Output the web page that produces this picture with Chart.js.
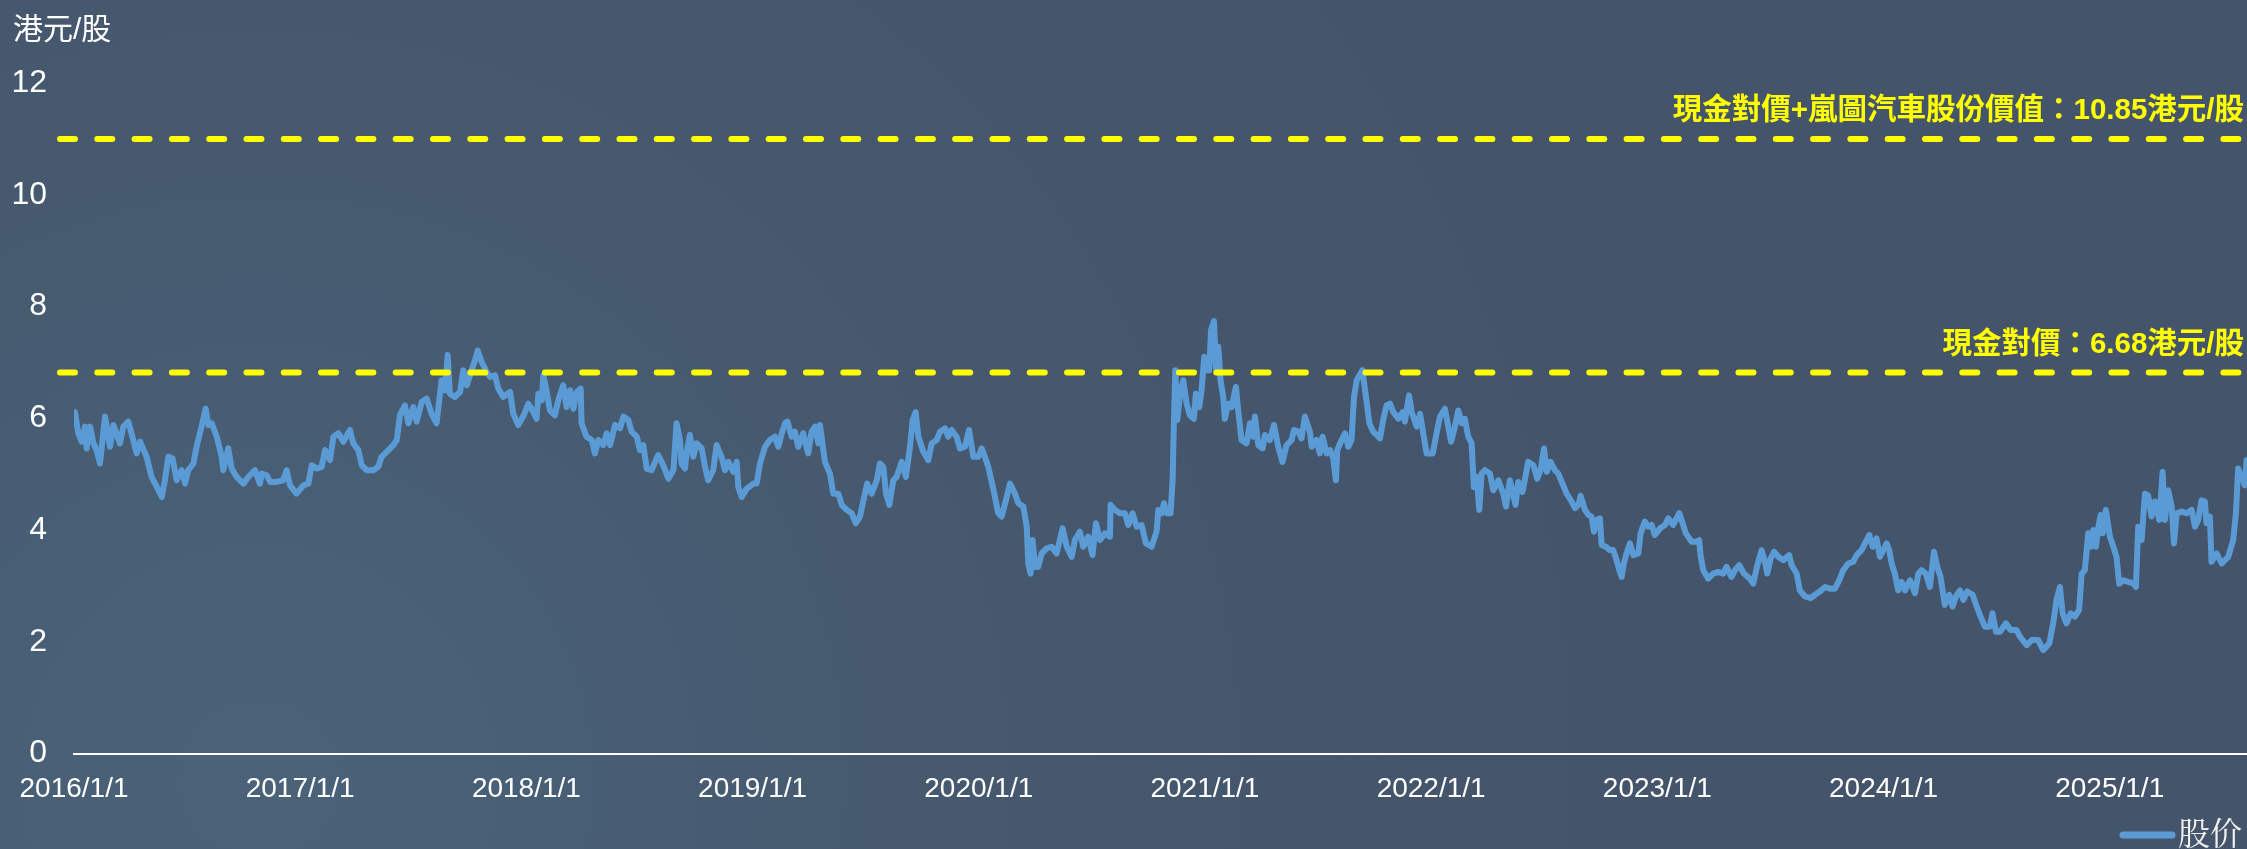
<!DOCTYPE html>
<html>
<head>
<meta charset="utf-8">
<script src="https://cdn.jsdelivr.net/npm/chart.js@4.4.1/dist/chart.umd.min.js"></script>
<style>
html, body { margin: 0; padding: 0; background: #44546a; }
#wrap { width: 2247px; height: 849px; }
</style>
</head>
<body>
<div id="wrap"><canvas id="chart-precio" width="2247" height="849"></canvas></div>
<script>
// fechas en años decimales (2016.5 = mediados de 2016)
var fechas = [
2016.004,2016.019,2016.034,2016.049,2016.056,2016.071,2016.086,2016.100,2016.115,2016.137,2016.159,2016.174,2016.203,2016.218,2016.240,2016.262,2016.277,2016.292,2016.321,2016.343,2016.366,2016.388,2016.402,2016.417,2016.436,2016.454,2016.476,2016.491,2016.505,2016.528,2016.542,2016.564,2016.582,2016.594,2016.609,2016.631,2016.653,2016.660,2016.682,2016.697,2016.719,2016.749,2016.771,2016.800,2016.822,2016.830,2016.852,2016.867,2016.896,2016.925,2016.940,2016.955,2016.984,
2017.014,2017.036,2017.051,2017.073,2017.095,2017.110,2017.132,2017.147,2017.169,2017.191,2017.220,2017.235,2017.257,2017.272,2017.294,2017.323,2017.345,2017.360,2017.390,2017.412,2017.427,2017.441,2017.463,2017.478,
2017.500,2017.515,2017.537,2017.559,2017.581,2017.603,2017.625,2017.640,2017.652,2017.662,2017.684,2017.707,2017.721,2017.736,2017.758,2017.773,2017.785,2017.802,2017.824,2017.839,2017.861,2017.876,2017.898,2017.928,2017.942,2017.964,2017.986,
2018.009,2018.031,2018.045,2018.053,2018.068,2018.075,2018.090,2018.104,2018.126,2018.141,2018.163,2018.178,2018.193,2018.208,2018.222,2018.240,2018.244,2018.266,2018.289,2018.303,2018.318,2018.340,2018.355,2018.370,2018.392,2018.414,2018.429,2018.451,2018.465,2018.488,2018.502,2018.517,2018.532,2018.554,2018.569,2018.583,2018.605,2018.628,2018.650,2018.664,2018.679,2018.686,2018.701,2018.709,2018.723,2018.738,2018.753,2018.775,2018.790,2018.804,2018.826,2018.841,2018.863,2018.878,2018.893,2018.915,2018.930,2018.937,2018.952,2018.974,
2019.003,2019.018,2019.033,2019.055,2019.077,2019.099,2019.114,2019.129,2019.143,
2019.154,2019.173,2019.187,2019.202,2019.224,2019.246,2019.261,2019.276,2019.291,2019.298,2019.320,2019.342,2019.357,2019.379,2019.394,2019.416,2019.438,2019.457,2019.475,2019.490,2019.507,2019.526,2019.549,2019.563,2019.578,2019.590,2019.605,2019.622,2019.637,2019.659,2019.678,2019.696,2019.708,2019.721,2019.733,2019.755,2019.777,2019.792,2019.814,2019.829,2019.851,2019.865,2019.880,2019.902,2019.917,2019.939,2019.957,2019.976,2019.998,
2020.013,2020.027,2020.042,2020.064,2020.086,2020.101,2020.120,2020.138,2020.160,2020.175,2020.197,2020.212,2020.219,2020.229,2020.238,2020.249,2020.263,2020.278,2020.300,2020.322,2020.344,2020.371,2020.389,2020.411,2020.425,2020.447,2020.462,2020.484,2020.503,2020.518,2020.536,2020.558,2020.580,2020.583,2020.602,2020.624,2020.646,2020.661,2020.680,2020.698,2020.720,2020.739,2020.764,
2020.786,2020.794,2020.809,2020.819,2020.831,2020.848,2020.857,2020.863,2020.869,2020.878,2020.890,2020.904,2020.919,2020.934,2020.951,2020.960,2020.975,2020.985,2020.997,
2021.007,2021.019,2021.027,2021.040,2021.049,2021.059,2021.069,2021.081,2021.088,2021.103,2021.118,2021.137,2021.147,2021.162,2021.184,2021.199,2021.214,2021.221,2021.236,2021.255,2021.265,2021.287,2021.305,2021.324,2021.343,2021.361,2021.383,2021.394,2021.413,2021.427,2021.442,2021.464,2021.472,2021.494,2021.508,2021.520,2021.538,2021.553,2021.567,2021.579,2021.585,2021.604,2021.619,2021.634,2021.648,2021.659,2021.671,2021.696,2021.712,2021.727,2021.744,2021.774,2021.788,2021.803,2021.818,2021.833,2021.855,2021.874,2021.884,2021.902,2021.914,2021.936,2021.951,2021.965,2021.980,
2022.007,2022.024,2022.039,2022.061,2022.073,2022.088,2022.105,2022.120,2022.135,2022.149,2022.164,2022.179,2022.189,2022.201,2022.213,2022.223,2022.238,2022.260,2022.275,2022.297,2022.319,2022.331,2022.348,2022.360,2022.373,2022.385,2022.404,
2022.429,2022.452,2022.469,2022.484,2022.499,2022.511,2022.528,2022.547,2022.562,2022.584,2022.599,2022.621,2022.636,2022.651,2022.661,2022.680,2022.695,2022.709,2022.720,2022.732,2022.746,2022.754,2022.773,2022.790,2022.805,2022.820,2022.832,2022.842,2022.852,2022.864,2022.879,2022.894,2022.916,2022.926,2022.945,2022.960,2022.975,2022.989,
2023.012,2023.034,2023.048,2023.070,2023.097,2023.112,2023.126,2023.152,2023.174,2023.185,2023.191,2023.203,2023.225,2023.247,2023.269,2023.292,2023.306,2023.328,2023.343,2023.362,2023.383,2023.409,2023.424,2023.442,2023.461,2023.476,2023.486,2023.501,2023.516,2023.535,2023.557,2023.583,2023.594,2023.616,2023.630,2023.653,2023.678,2023.697,2023.719,2023.741,2023.763,2023.785,2023.804,2023.822,2023.844,2023.866,2023.881,2023.903,2023.918,2023.937,2023.952,2023.969,
2023.984,2023.999,2024.014,2024.025,2024.036,2024.050,2024.065,2024.080,2024.095,2024.117,2024.139,2024.154,2024.168,2024.187,2024.205,2024.223,2024.238,2024.252,2024.271,2024.291,2024.305,2024.320,2024.338,2024.353,2024.370,2024.394,2024.412,2024.426,2024.448,2024.470,2024.482,2024.497,2024.515,2024.541,2024.562,2024.588,2024.603,2024.633,2024.655,2024.684,2024.706,2024.733,2024.750,2024.765,2024.780,2024.792,2024.809,2024.827,2024.846,2024.865,2024.876,2024.890,2024.905,2024.916,2024.927,2024.939,2024.949,2024.960,2024.969,2024.983,
2025.001,2025.016,2025.030,2025.042,2025.060,2025.082,2025.107,2025.116,2025.126,2025.141,2025.156,2025.170,2025.185,2025.200,2025.219,2025.234,2025.244,2025.259,2025.274,2025.284,2025.296,2025.318,2025.340,2025.362,2025.377,2025.391,2025.406,2025.421,2025.428,2025.443,2025.450,2025.473,2025.495,2025.524,2025.546,2025.558,2025.568,2025.583,2025.598,2025.605
]

var precios = [
6.11,5.73,5.58,5.85,5.46,5.85,5.55,5.43,5.19,6.03,5.49,5.88,5.55,5.85,5.94,5.61,5.37,5.58,5.31,4.95,4.77,4.59,4.89,5.31,5.28,4.89,5.07,4.83,5.07,5.19,5.49,5.85,6.17,5.88,5.91,5.67,5.31,5.07,5.46,5.10,4.95,4.83,4.95,5.07,4.83,5.01,4.98,4.86,4.86,4.89,5.07,4.80,4.65,
4.80,4.83,5.16,5.10,5.13,5.43,5.25,5.67,5.73,5.58,5.79,5.55,5.43,5.16,5.07,5.07,5.13,5.31,5.43,5.52,5.61,6.06,6.23,5.91,
6.20,5.94,6.29,6.35,6.08,5.91,6.68,6.50,7.13,6.44,6.38,6.47,6.86,6.59,6.86,7.04,7.21,7.01,6.83,6.74,6.77,6.53,6.38,6.47,6.08,5.88,6.03,
6.26,6.11,5.99,6.44,6.32,6.77,6.47,6.14,6.05,6.32,6.59,6.20,6.50,6.17,6.47,6.53,5.91,5.67,5.61,5.37,5.61,5.52,5.73,5.52,5.88,5.82,6.03,5.97,5.76,5.67,5.43,5.52,5.10,5.07,5.22,5.34,5.16,4.92,5.07,5.91,5.61,5.19,5.10,5.40,5.70,5.31,5.55,5.46,5.13,4.89,5.07,5.52,5.31,5.07,5.22,5.04,5.22,4.77,4.59,4.74,
4.83,4.83,5.19,5.49,5.61,5.67,5.49,5.73,5.91,
5.94,5.67,5.76,5.49,5.73,5.37,5.76,5.85,5.55,5.88,5.22,5.01,4.65,4.65,4.45,4.36,4.30,4.12,4.24,4.53,4.83,4.65,4.89,5.19,5.13,4.65,4.45,4.89,4.95,5.22,4.95,5.49,5.97,6.11,5.67,5.40,5.25,5.55,5.61,5.76,5.82,5.67,5.79,5.67,5.46,5.49,5.79,5.31,5.31,
5.46,5.31,5.13,4.74,4.30,4.24,4.53,4.83,4.65,4.48,4.42,4.06,3.40,3.22,3.82,3.34,3.34,3.58,3.67,3.70,3.58,4.03,3.70,3.52,3.82,3.97,3.70,3.88,3.55,4.12,3.82,3.94,3.88,4.45,4.36,4.30,4.30,4.09,4.30,4.06,4.09,3.76,3.70,
3.97,4.36,4.30,4.48,4.30,4.30,4.89,5.97,6.86,5.97,6.44,6.68,6.26,6.05,5.99,6.44,6.20,6.50,7.10,
6.86,6.86,7.58,7.74,6.89,7.28,6.68,6.38,5.99,6.26,6.20,6.56,6.14,5.61,5.55,5.91,5.67,6.03,5.52,5.46,5.70,5.61,5.88,5.49,5.22,5.52,5.61,5.79,5.76,5.64,6.03,5.76,5.49,5.61,5.37,5.67,5.37,5.43,5.28,4.89,5.43,5.61,5.73,5.49,5.61,6.38,6.68,6.86,6.38,5.91,5.76,5.64,5.97,6.23,6.26,6.11,5.99,6.11,5.94,6.41,6.11,5.85,6.08,5.73,5.37,
5.37,5.73,6.03,6.17,5.91,5.58,5.85,6.14,5.91,5.99,5.67,5.55,4.77,4.95,4.36,5.01,5.07,5.01,4.71,4.89,4.65,4.42,4.89,4.68,4.45,4.86,4.68,
5.22,5.16,4.92,5.07,5.46,5.04,5.22,5.07,5.01,4.80,4.65,4.51,4.39,4.45,4.61,4.36,4.27,4.24,3.97,4.18,4.21,3.73,3.70,3.64,3.64,3.46,3.28,3.16,3.40,3.58,3.76,3.55,3.58,3.94,4.15,4.06,4.09,3.91,
4.03,4.09,4.21,4.09,4.30,4.12,3.94,3.79,3.79,3.82,3.55,3.28,3.13,3.22,3.25,3.22,3.34,3.16,3.28,3.37,3.22,3.13,3.04,3.37,3.64,3.43,3.22,3.49,3.61,3.52,3.46,3.55,3.37,3.22,2.92,2.81,2.78,2.84,2.90,2.98,2.95,2.95,3.10,3.28,3.40,3.43,3.55,3.64,3.76,3.91,3.70,3.85,
3.52,3.64,3.76,3.64,3.40,3.22,2.92,3.07,2.92,3.10,2.87,3.22,3.28,3.22,2.98,3.61,3.34,3.16,2.66,2.84,2.63,2.81,2.92,2.75,2.90,2.84,2.63,2.48,2.27,2.27,2.51,2.18,2.18,2.33,2.21,2.21,2.09,1.94,2.03,2.03,1.85,1.97,2.33,2.75,2.98,2.51,2.33,2.51,2.45,2.57,3.22,3.28,3.94,3.70,4.00,3.70,4.03,4.27,3.94,4.36,
3.88,3.70,3.52,3.04,3.10,3.07,3.04,2.98,4.06,3.82,4.65,4.62,4.24,4.51,4.18,5.04,4.18,4.71,4.42,3.76,4.30,4.33,4.30,4.36,4.06,4.18,4.53,4.51,4.12,4.24,3.43,3.58,3.40,3.52,3.82,4.30,5.10,4.95,4.80,5.25
]

var anios = [2016, 2017, 2018, 2019, 2020, 2021, 2022, 2023, 2024, 2025]
var etiquetas_anios = ['2016/1/1', '2017/1/1', '2018/1/1', '2019/1/1', '2020/1/1', '2021/1/1', '2022/1/1', '2023/1/1', '2024/1/1', '2025/1/1']
var x_fin = 2025.607

// lineas de referencia (posicion) y sus textos
var ref_valores = [11.0, 6.82]
var ref_textos = ['現金對價+嵐圖汽車股份價值：10.85港元/股', '現金對價：6.68港元/股']
var ref_inicio = 2015.938

var COLORES = {
    "fondo": "#44546a",
    "fondo_claro": "#4a6379",
    "linea": "#5b9bd5",
    "amarillo": "#ffff00",
    "blanco": "#ffffff",
}

var puntos = fechas.map(function (f, i) { return { x: f, y: precios[i] } })

var datasets = ref_valores.map(function (v) {
    return {
        label: 'ref',
        data: [{ x: ref_inicio, y: v }, { x: x_fin, y: v }],
        borderColor: COLORES["amarillo"],
        borderWidth: 6,
        borderDash: [15, 22.3],
        borderCapStyle: 'round',
        pointRadius: 0,
        clip: false,
        order: 0,
    }
})
datasets.push({
    label: '股价',
    data: puntos,
    borderColor: COLORES["linea"],
    backgroundColor: COLORES["linea"],
    borderWidth: 6,
    borderJoinStyle: 'round',
    borderCapStyle: 'round',
    pointRadius: 0,
    tension: 0,
    order: 1,
})

var fondo = {
    id: 'fondo',
    beforeDraw: function (chart) {
        var ctx = chart.ctx
        var g = ctx.createRadialGradient(260, 780, 0, 260, 780, 1400)
        g.addColorStop(0, COLORES["fondo_claro"])
        g.addColorStop(0.45, '#46596f')
        g.addColorStop(1, COLORES["fondo"])
        ctx.save()
        ctx.fillStyle = g
        ctx.fillRect(0, 0, chart.width, chart.height)
        ctx.restore()
    }
}

var textos = {
    id: 'textos',
    afterDraw: function (chart) {
        var ctx = chart.ctx
        var y = chart.scales.y
        ctx.save()
        // unidad del eje
        ctx.fillStyle = COLORES["blanco"]
        ctx.font = '30px "Liberation Sans", "Noto Sans CJK SC", sans-serif'
        ctx.textAlign = 'left'
        ctx.textBaseline = 'middle'
        ctx.fillText('港元/股', 13, 31)

        // textos de las lineas de referencia
        ctx.fillStyle = COLORES["amarillo"]
        ctx.font = 'bold 29.5px "Liberation Sans", "Noto Sans CJK TC", sans-serif'
        ctx.textAlign = 'right'
        for (var i = 0; i < ref_valores.length; i++) {
            ctx.fillText(ref_textos[i], 2244, y.getPixelForValue(ref_valores[i]) - 28)
        }

        // leyenda
        var ds = chart.data.datasets[chart.data.datasets.length - 1]
        ctx.strokeStyle = ds.borderColor
        ctx.lineWidth = 7
        ctx.lineCap = 'round'
        ctx.beginPath()
        ctx.moveTo(2123, 835)
        ctx.lineTo(2172, 835)
        ctx.stroke()
        ctx.fillStyle = '#f2f2f2'
        ctx.font = '32px "Noto Serif CJK SC", "Noto Sans CJK SC", serif'
        ctx.textAlign = 'left'
        ctx.fillText(ds.label, 2178, 833)
        ctx.restore()
    }
}

var chart = new Chart(document.getElementById('chart-precio'), {
    type: 'line',
    data: { datasets: datasets },
    options: {
        responsive: false,
        animation: false,
        devicePixelRatio: 1,
        layout: { padding: { top: 83, left: 0, right: 0, bottom: 0 } },
        plugins: {
            legend: { display: false },
            tooltip: { enabled: false },
        },
        scales: {
            x: {
                type: 'linear',
                min: 2016,
                max: x_fin,
                afterBuildTicks: function (s) { s.ticks = anios.map(function (a) { return { value: a } }) },
                afterFit: function (s) { s.height = 95.5 },
                grid: { display: false, drawTicks: false },
                border: { display: true, color: COLORES["blanco"], width: 2 },
                ticks: {
                    autoSkip: false,
                    maxRotation: 0,
                    color: COLORES["blanco"],
                    padding: 19,
                    font: { family: '"Liberation Sans", Arial, sans-serif', size: 28 },
                    callback: function (v) { return etiquetas_anios[anios.indexOf(v)] },
                },
            },
            y: {
                min: 0,
                max: 12,
                afterFit: function (s) { s.width = 74 },
                grid: { display: false, drawTicks: false },
                border: { display: false },
                ticks: {
                    stepSize: 2,
                    color: COLORES["blanco"],
                    padding: 27,
                    font: { family: '"Liberation Sans", Arial, sans-serif', size: 32 },
                },
            },
        },
    },
    plugins: [fondo, textos],
})
</script>
</body>
</html>
